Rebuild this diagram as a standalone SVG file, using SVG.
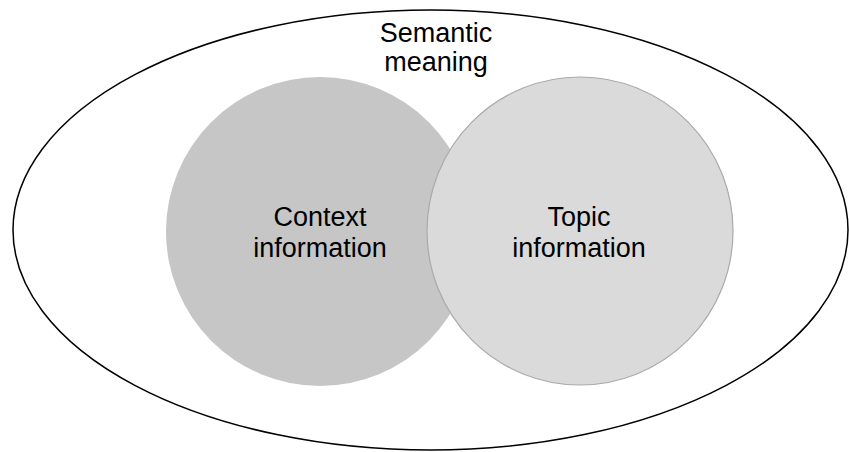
<svg xmlns="http://www.w3.org/2000/svg" width="849" height="452" viewBox="0 0 849 452">
<style>
text{font-family:"Liberation Sans",Arial,sans-serif;font-size:27px;fill:#000;text-anchor:middle}
</style>
<rect width="849" height="452" fill="#fff"/>
<g id="semantic">
<ellipse cx="430.5" cy="230" rx="417.5" ry="220" fill="#fff" stroke="#000" stroke-width="1.5"/>
<text x="436" y="42">Semantic</text>
<text x="436" y="71">meaning</text>
</g>
<g id="context">
<ellipse cx="320" cy="231.5" rx="154" ry="154.5" fill="#c6c6c6"/>
<text x="320" y="226">Context</text>
<text x="320" y="257">information</text>
</g>
<g id="topic">
<ellipse cx="580" cy="231" rx="153" ry="154" fill="#dadada" stroke="#aaaaaa" stroke-width="1.2"/>
<text x="579" y="226">Topic</text>
<text x="579" y="257">information</text>
</g>
<g id="connectors"/>
</svg>
